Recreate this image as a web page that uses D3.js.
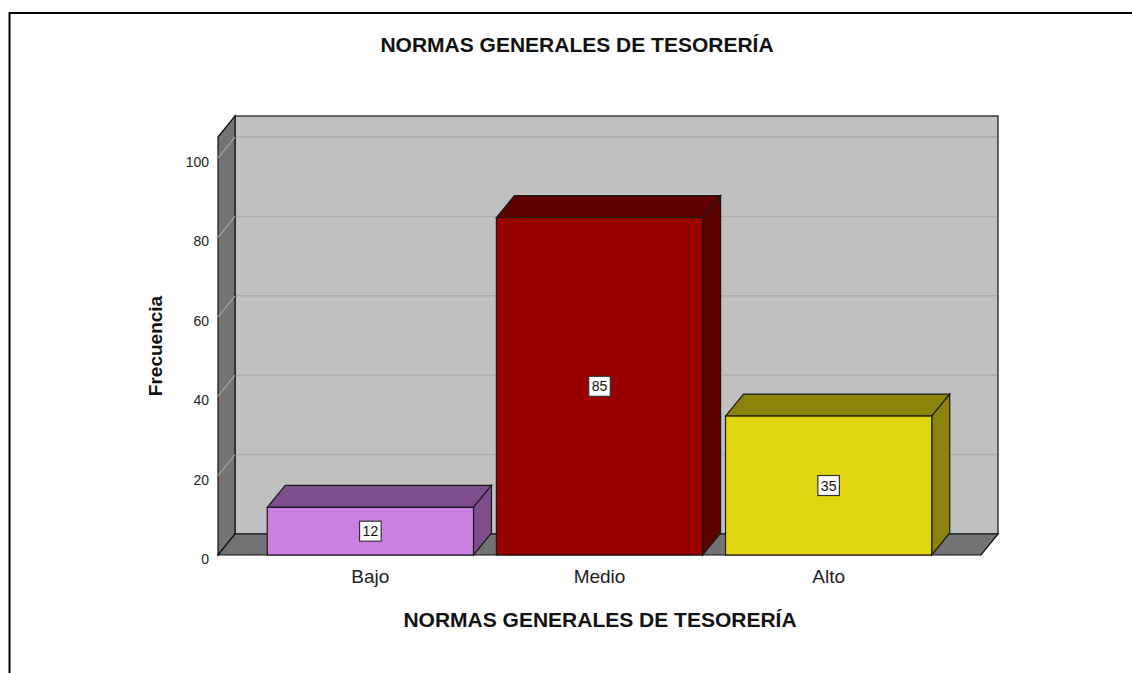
<!DOCTYPE html>
<html>
<head>
<meta charset="utf-8">
<script src="https://cdn.jsdelivr.net/npm/d3@7"></script>
<style>
    body { margin: 0; background: #fff; }
    svg { display: block; font-family: "Liberation Sans", Arial, sans-serif; }
</style>
</head>
<body>
<svg id="chart"></svg>
<script>
const categories = ['Bajo', 'Medio', 'Alto'];
const frequencies = [12, 85, 35];
const yTicks = [0, 20, 40, 60, 80, 100];
const chartTitle = 'NORMAS GENERALES DE TESORERÍA';
const xTitle = 'NORMAS GENERALES DE TESORERÍA';
const yTitle = 'Frecuencia';

const frontColors = ['#cb7fe3', '#990000', '#e1d512'];
const depthColors = ['#7e4e8c', '#5e0000', '#8b840b'];

function drawChart() {
    const width = 1132;
    const height = 673;
    const svg = d3.select('#chart').attr('width', width).attr('height', height);

    // frame (only top and left edges are visible)
    svg.append('path')
        .attr('d', `M9.5,${height} L9.5,13 L${width},13`)
        .attr('fill', 'none')
        .attr('stroke', '#000')
        .attr('stroke-width', 2);

    // 3D offsets
    const wall = { dx: 17, dy: -21 };
    const bar = { dx: 18, dy: -22 };

    const x = d3.scaleBand()
        .domain(categories)
        .range([218, 981])
        .paddingInner(0.1)
        .paddingOuter(0.215);

    const y = d3.scaleLinear()
        .domain([0, 105.3])
        .range([555, 137]);

    const x0 = x.range()[0], x1 = x.range()[1];
    const yBottom = y(0), yTop = y(y.domain()[1]);

    const walls = svg.append('g');

    // back wall
    walls.append('rect')
        .attr('x', x0 + wall.dx)
        .attr('y', yTop + wall.dy)
        .attr('width', x1 - x0)
        .attr('height', yBottom - yTop)
        .attr('fill', '#c0c0c0');

    // back wall grid lines
    walls.selectAll('.grid')
        .data(yTicks.filter(d => d > 0))
        .enter().append('line')
        .attr('x1', x0 + wall.dx)
        .attr('x2', x1 + wall.dx)
        .attr('y1', d => y(d) + wall.dy)
        .attr('y2', d => y(d) + wall.dy)
        .attr('stroke', '#adadad')
        .attr('stroke-width', 1.5);

    walls.append('rect')
        .attr('x', x0 + wall.dx)
        .attr('y', yTop + wall.dy)
        .attr('width', x1 - x0)
        .attr('height', yBottom - yTop)
        .attr('fill', 'none')
        .attr('stroke', '#111')
        .attr('stroke-width', 1.2);

    // side wall
    walls.append('polygon')
        .attr('points', [
            [x0, yTop], [x0 + wall.dx, yTop + wall.dy],
            [x0 + wall.dx, yBottom + wall.dy], [x0, yBottom]
        ].join(' '))
        .attr('fill', '#737373')
        .attr('stroke', '#111')
        .attr('stroke-width', 1.2);

    walls.selectAll('.sidegrid')
        .data(yTicks.filter(d => d > 0))
        .enter().append('line')
        .attr('x1', x0)
        .attr('x2', x0 + wall.dx)
        .attr('y1', d => y(d))
        .attr('y2', d => y(d) + wall.dy)
        .attr('stroke', '#a3a3a3')
        .attr('stroke-width', 1.2);

    // floor
    walls.append('polygon')
        .attr('points', [
            [x0, yBottom], [x0 + wall.dx, yBottom + wall.dy],
            [x1 + wall.dx, yBottom + wall.dy], [x1, yBottom]
        ].join(' '))
        .attr('fill', '#737373')
        .attr('stroke', '#111')
        .attr('stroke-width', 1.2);

    // bars
    const data = categories.map((c, i) => ({ cat: c, value: frequencies[i], i }));
    const bars = svg.selectAll('.bar')
        .data(data)
        .enter().append('g')
        .attr('class', 'bar');

    bars.append('polygon')
        .attr('points', d => {
            const l = x(d.cat), r = l + x.bandwidth(), t = y(d.value);
            return [[l, t], [l + bar.dx, t + bar.dy], [r + bar.dx, t + bar.dy], [r, t]].join(' ');
        })
        .attr('fill', d => depthColors[d.i])
        .attr('stroke', '#1a1a1a')
        .attr('stroke-width', 1.2);

    bars.append('polygon')
        .attr('points', d => {
            const r = x(d.cat) + x.bandwidth(), t = y(d.value), b = y(0);
            return [[r, t], [r + bar.dx, t + bar.dy], [r + bar.dx, b + bar.dy], [r, b]].join(' ');
        })
        .attr('fill', d => depthColors[d.i])
        .attr('stroke', '#1a1a1a')
        .attr('stroke-width', 1.2);

    bars.append('rect')
        .attr('x', d => x(d.cat))
        .attr('y', d => y(d.value))
        .attr('width', x.bandwidth())
        .attr('height', d => y(0) - y(d.value))
        .attr('fill', d => frontColors[d.i])
        .attr('stroke', '#1a1a1a')
        .attr('stroke-width', 1.2);

    // value labels
    const labels = bars.append('g')
        .attr('transform', d => `translate(${x(d.cat) + x.bandwidth() / 2},${(y(d.value) + y(0)) / 2})`);

    labels.append('text')
        .attr('text-anchor', 'middle')
        .attr('y', 5)
        .attr('font-size', 14)
        .attr('fill', '#111')
        .text(d => d.value);

    labels.each(function () {
        const g = d3.select(this);
        const w = g.select('text').node().getComputedTextLength() + 6;
        g.insert('rect', 'text')
            .attr('x', -w / 2)
            .attr('y', -10)
            .attr('width', w)
            .attr('height', 20)
            .attr('fill', '#fff')
            .attr('stroke', '#333')
            .attr('stroke-width', 1.2);
    });

    // y axis labels
    const yAxis = svg.append('g')
        .attr('transform', `translate(${x0},0)`)
        .call(d3.axisLeft(y).tickValues(yTicks).tickSize(0).tickPadding(9));
    yAxis.select('.domain').remove();
    yAxis.selectAll('text')
        .attr('font-size', 14)
        .attr('font-family', '"Liberation Sans", Arial, sans-serif')
        .attr('fill', '#222')
        .attr('dy', 8.5);

    // x axis labels
    const xAxis = svg.append('g')
        .attr('transform', `translate(0,${yBottom})`)
        .call(d3.axisBottom(x).tickSize(0));
    xAxis.select('.domain').remove();
    xAxis.selectAll('text')
        .attr('font-size', 19)
        .attr('font-family', '"Liberation Sans", Arial, sans-serif')
        .attr('fill', '#222')
        .attr('y', 28)
        .attr('dy', 0);

    // titles
    svg.append('text')
        .attr('x', 577)
        .attr('y', 52)
        .attr('text-anchor', 'middle')
        .attr('font-size', 21)
        .attr('font-weight', 'bold')
        .attr('fill', '#111')
        .text(chartTitle);

    svg.append('text')
        .attr('x', 600)
        .attr('y', 627)
        .attr('text-anchor', 'middle')
        .attr('font-size', 21)
        .attr('font-weight', 'bold')
        .attr('fill', '#111')
        .text(xTitle);

    svg.append('text')
        .attr('transform', 'translate(162,346) rotate(-90)')
        .attr('text-anchor', 'middle')
        .attr('font-size', 19)
        .attr('font-weight', 'bold')
        .attr('fill', '#111')
        .text(yTitle);
}

drawChart();
</script>
</body>
</html>
